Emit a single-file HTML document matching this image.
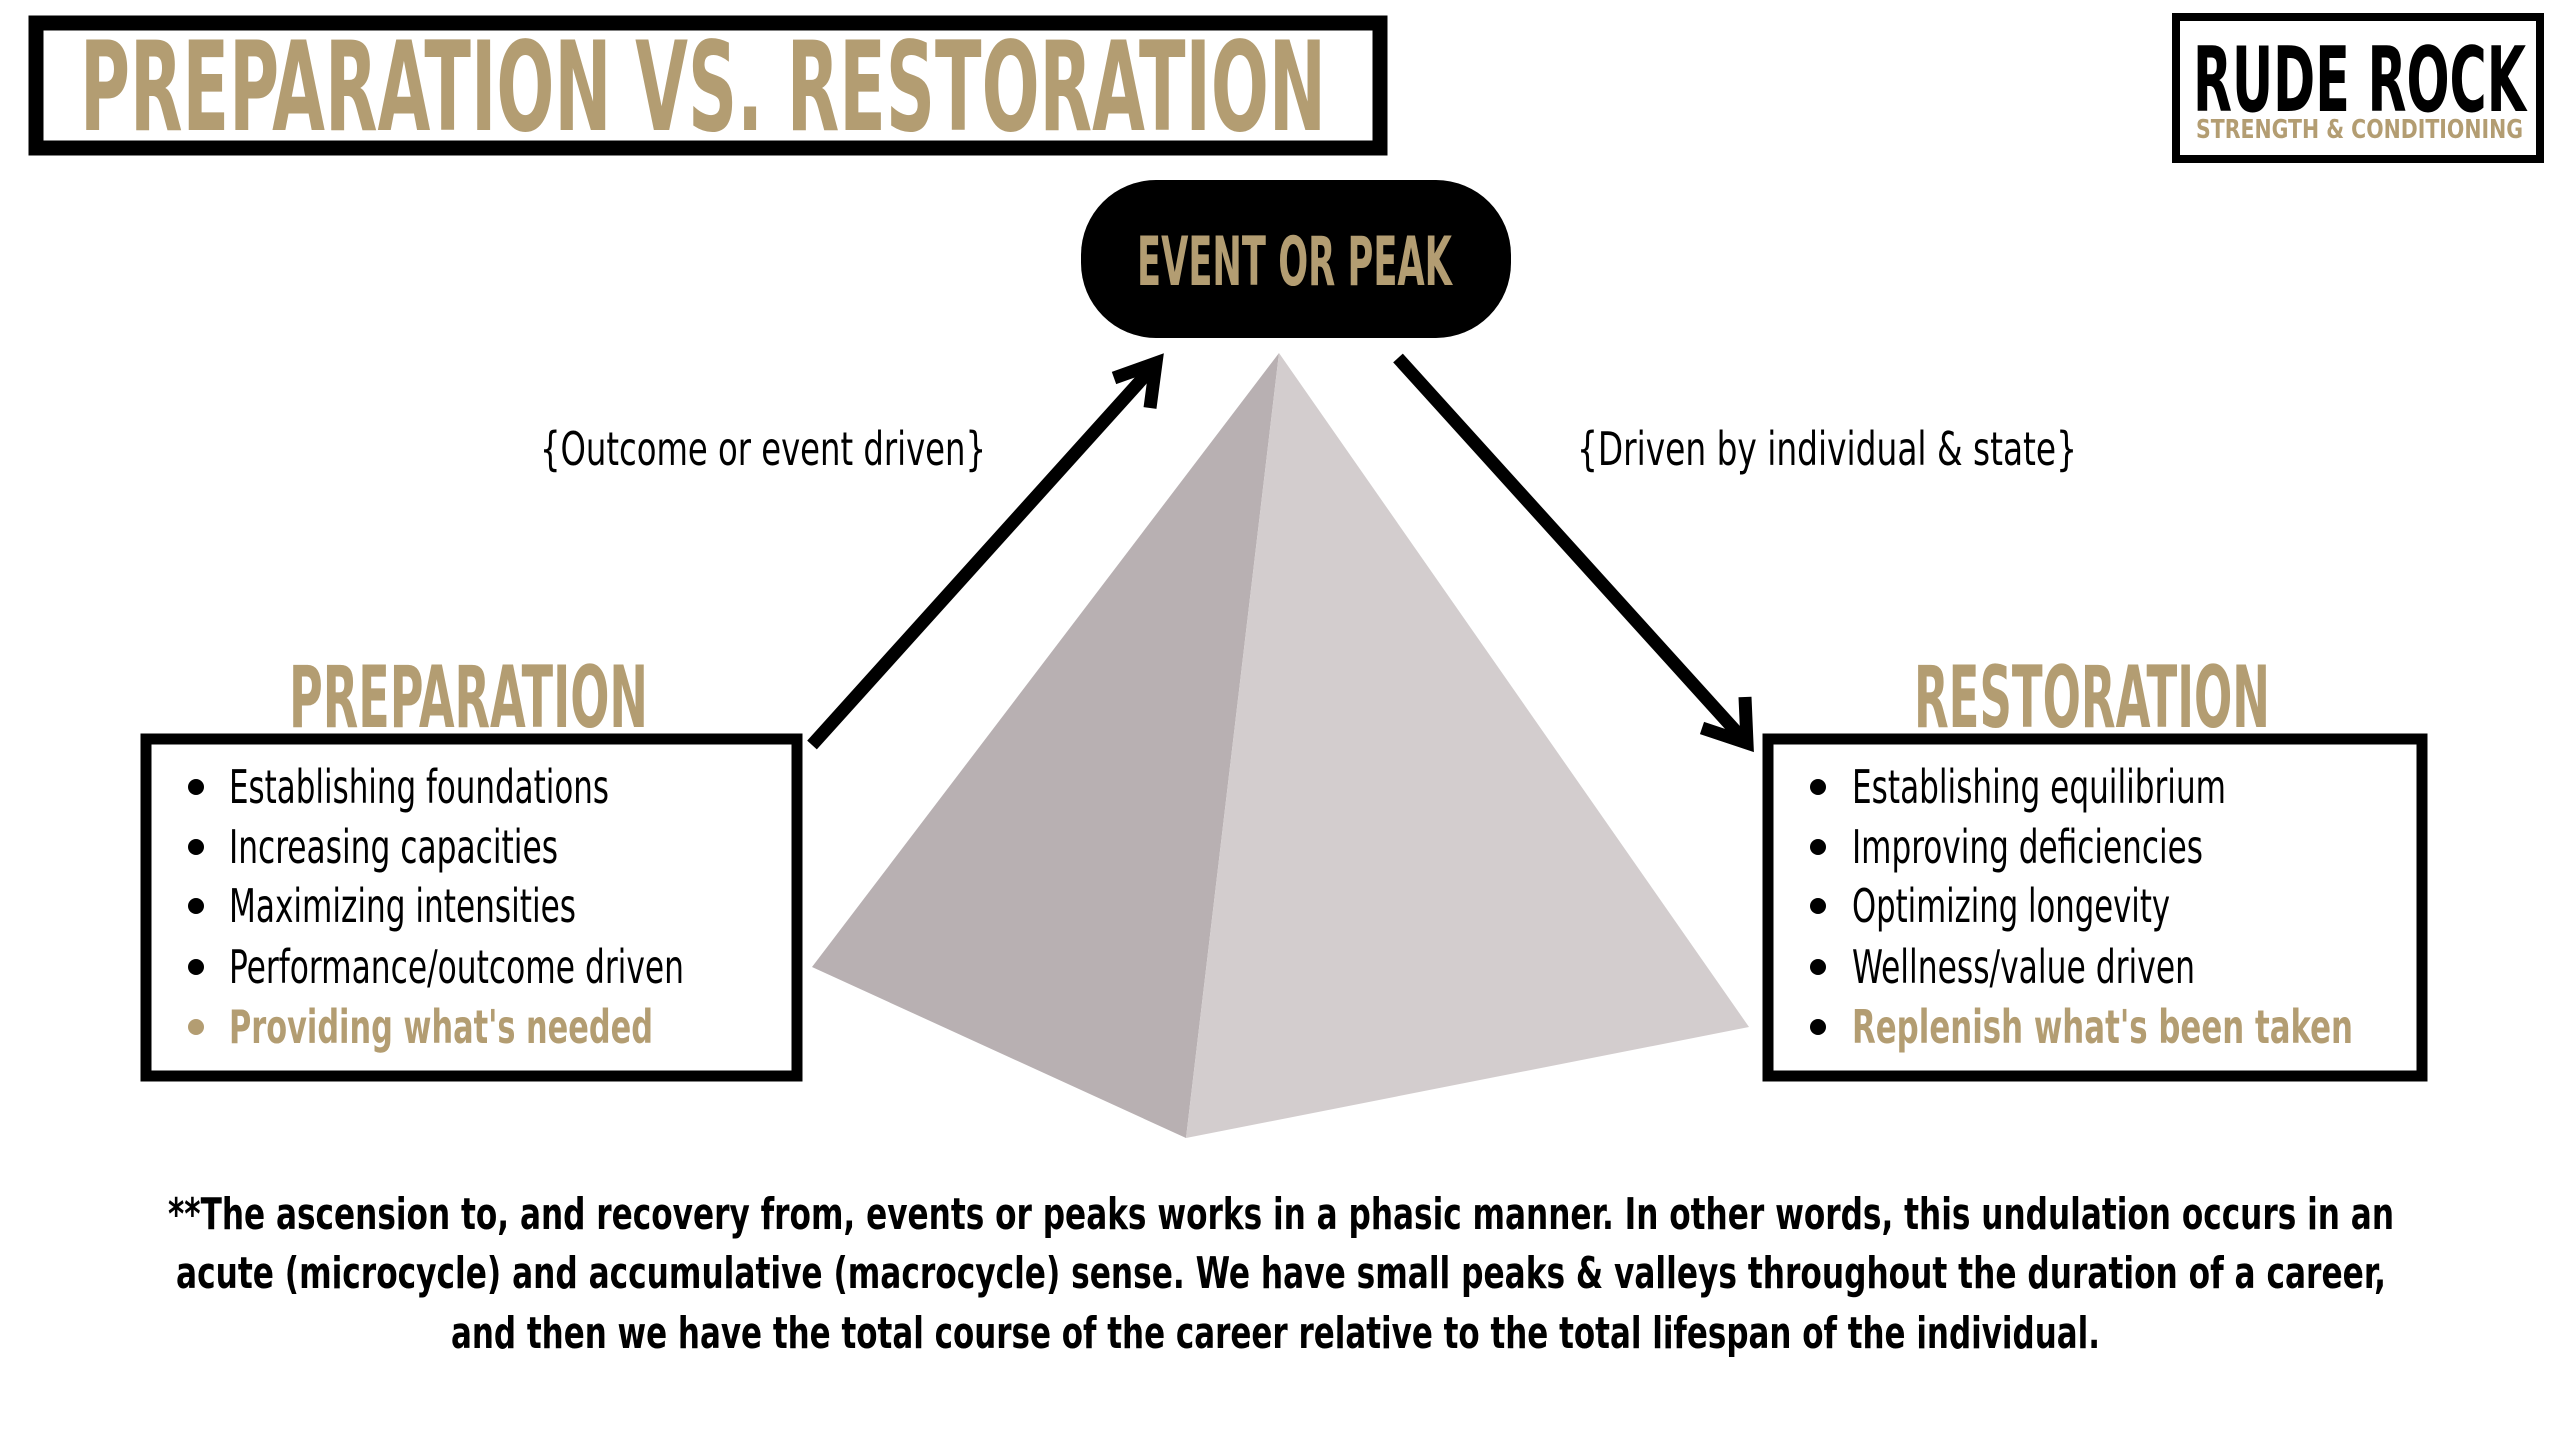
<!DOCTYPE html>
<html><head><meta charset="utf-8"><style>
html,body{margin:0;padding:0;background:#fff;}
svg{display:block;}
text{font-family:"DejaVu Sans Condensed","Liberation Sans",sans-serif;}
</style></head><body>
<svg width="2560" height="1440" viewBox="0 0 2560 1440" xmlns="http://www.w3.org/2000/svg">
<rect width="2560" height="1440" fill="#fff"/>
<!-- title box -->
<rect x="36" y="23" width="1344" height="125" fill="none" stroke="#000" stroke-width="15"/>
<text x="80" y="130" font-size="124" fill="#b39d72" font-weight="bold" textLength="1246" lengthAdjust="spacingAndGlyphs">PREPARATION VS. RESTORATION</text>
<!-- logo -->
<rect x="2176" y="17" width="364" height="142" fill="none" stroke="#000" stroke-width="8"/>
<text x="2193" y="111" font-size="90" font-weight="bold" fill="#000" textLength="333" lengthAdjust="spacingAndGlyphs">RUDE ROCK</text>
<text x="2196" y="138" font-size="26" font-weight="bold" fill="#b39d72" textLength="327" lengthAdjust="spacingAndGlyphs">STRENGTH &amp; CONDITIONING</text>
<!-- pill -->
<rect x="1081" y="180" width="430" height="158" rx="75" fill="#000"/>
<text x="1137" y="285" font-size="68" font-weight="bold" fill="#b39d72" textLength="315" lengthAdjust="spacingAndGlyphs">EVENT OR PEAK</text>
<!-- pyramid -->
<polygon points="1279,353 812,967 1186,1138" fill="#b8b0b2"/>
<polygon points="1279,353 1186,1138 1749,1027" fill="#d3cdce"/>
<!-- arrows -->
<g stroke="#000" stroke-width="13" fill="none" stroke-linecap="butt">
<line x1="812" y1="745" x2="1152" y2="368"/>
<polyline points="1114,378 1156,363 1150,408"/>
<line x1="1398" y1="358" x2="1742" y2="738"/>
<polyline points="1702,728 1747,743 1745,697"/>
</g>
<!-- labels -->
<text x="540" y="465" font-size="46" fill="#000" textLength="446" lengthAdjust="spacingAndGlyphs">{Outcome or event driven}</text>
<text x="1577" y="465" font-size="46" fill="#000" textLength="500" lengthAdjust="spacingAndGlyphs">{Driven by individual &amp; state}</text>
<text x="289" y="727" font-size="86" font-weight="bold" fill="#b39d72" textLength="359" lengthAdjust="spacingAndGlyphs">PREPARATION</text>
<text x="1914" y="727" font-size="86" font-weight="bold" fill="#b39d72" textLength="356" lengthAdjust="spacingAndGlyphs">RESTORATION</text>
<!-- boxes -->
<rect x="146" y="739" width="651" height="337" fill="none" stroke="#000" stroke-width="11"/>
<rect x="1768" y="739" width="654" height="337" fill="none" stroke="#000" stroke-width="11"/>
<g fill="#000">
<circle cx="196" cy="787" r="8"/><circle cx="196" cy="847" r="8"/><circle cx="196" cy="906" r="8"/><circle cx="196" cy="967" r="8"/>
<circle cx="1818" cy="787" r="8"/><circle cx="1818" cy="847" r="8"/><circle cx="1818" cy="906" r="8"/><circle cx="1818" cy="967" r="8"/><circle cx="1818" cy="1027" r="8"/>
</g>
<circle cx="196" cy="1027" r="8" fill="#b39d72"/>
<g font-size="46" fill="#000">
<text x="229" y="803" textLength="380" lengthAdjust="spacingAndGlyphs">Establishing foundations</text>
<text x="229" y="863" textLength="329" lengthAdjust="spacingAndGlyphs">Increasing capacities</text>
<text x="229" y="922" textLength="347" lengthAdjust="spacingAndGlyphs">Maximizing intensities</text>
<text x="229" y="983" textLength="455" lengthAdjust="spacingAndGlyphs">Performance/outcome driven</text>
<text x="1852" y="803" textLength="374" lengthAdjust="spacingAndGlyphs">Establishing equilibrium</text>
<text x="1852" y="863" textLength="351" lengthAdjust="spacingAndGlyphs">Improving deficiencies</text>
<text x="1852" y="922" textLength="318" lengthAdjust="spacingAndGlyphs">Optimizing longevity</text>
<text x="1852" y="983" textLength="343" lengthAdjust="spacingAndGlyphs">Wellness/value driven</text>
</g>
<g font-size="46" fill="#b39d72" font-weight="bold">
<text x="229" y="1043" textLength="424" lengthAdjust="spacingAndGlyphs">Providing what's needed</text>
<text x="1852" y="1043" textLength="501" lengthAdjust="spacingAndGlyphs">Replenish what's been taken</text>
</g>
<g font-size="44" font-weight="bold" fill="#000">
<text x="168" y="1229" textLength="2226" lengthAdjust="spacingAndGlyphs">**The ascension to, and recovery from, events or peaks works in a phasic manner. In other words, this undulation occurs in an</text>
<text x="176" y="1288" textLength="2210" lengthAdjust="spacingAndGlyphs">acute (microcycle) and accumulative (macrocycle) sense. We have small peaks &amp; valleys throughout the duration of a career,</text>
<text x="451" y="1348" textLength="1649" lengthAdjust="spacingAndGlyphs">and then we have the total course of the career relative to the total lifespan of the individual.</text>
</g>
</svg>
</body></html>
